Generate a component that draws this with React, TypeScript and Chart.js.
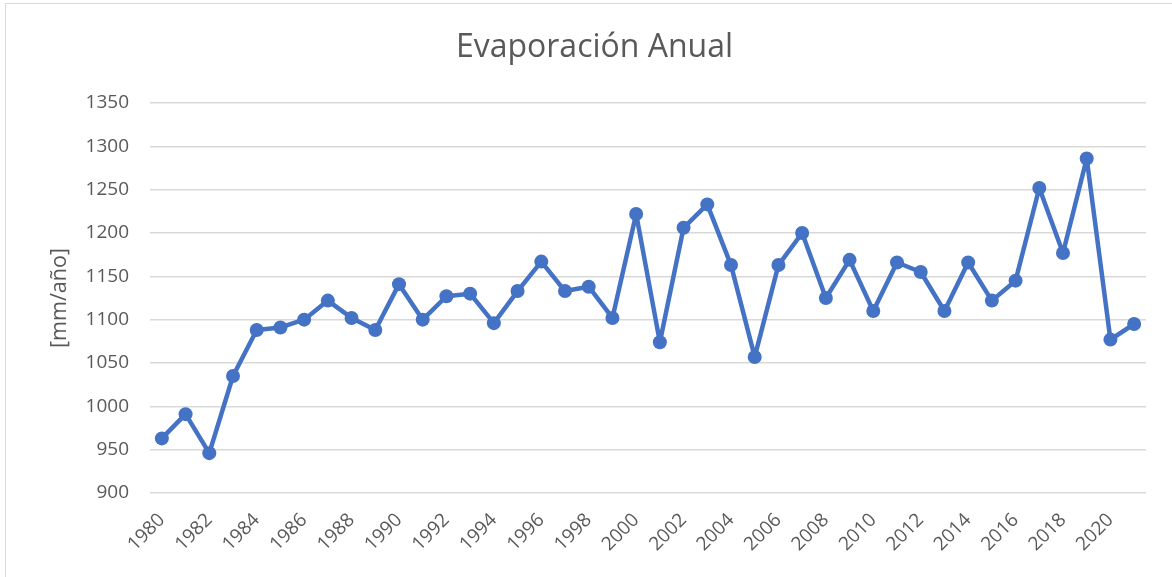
import React, { useEffect, useRef } from "react";
import { Chart, registerables } from "chart.js";

Chart.register(...registerables);

const years: string[] = [
  "1980", "1981", "1982", "1983", "1984", "1985", "1986", "1987", "1988", "1989",
  "1990", "1991", "1992", "1993", "1994", "1995", "1996", "1997", "1998", "1999",
  "2000", "2001", "2002", "2003", "2004", "2005", "2006", "2007", "2008", "2009",
  "2010", "2011", "2012", "2013", "2014", "2015", "2016", "2017", "2018", "2019",
  "2020", "2021",
];

const evaporation: number[] = [
  963, 991, 946, 1035, 1088, 1091, 1100, 1122, 1102, 1088,
  1141, 1100, 1127, 1130, 1096, 1133, 1167, 1133, 1138, 1102,
  1222, 1074, 1206, 1233, 1163, 1057, 1163, 1200, 1125, 1169,
  1110, 1166, 1155, 1110, 1166, 1122, 1145, 1252, 1177, 1286,
  1077, 1095,
];

const chartTitle = "Evaporación Anual";
const yAxisTitle = "[mm/año]";
const yMin = 900;
const yMax = 1350;
const yStep = 50;

const FONT = "'Open Sans', 'Noto Sans', sans-serif";
const TEXT = "#595959";
const GRID = "#d9d9d9";
const BLUE = "#4472C4";

export default function App() {
  const canvasRef = useRef<HTMLCanvasElement | null>(null);

  useEffect(() => {
    document.body.style.margin = "0";
    document.body.style.overflow = "hidden";
    const canvas = canvasRef.current;
    if (!canvas) return;
    const chart = new Chart(canvas, {
      type: "line",
      data: {
        labels: years,
        datasets: [
          {
            label: "Evaporación",
            data: evaporation,
            borderColor: BLUE,
            backgroundColor: BLUE,
            borderWidth: 4.5,
            borderJoinStyle: "round",
            borderCapStyle: "round",
            pointRadius: 7,
            pointBackgroundColor: BLUE,
            pointBorderColor: BLUE,
            pointBorderWidth: 0,
            tension: 0,
          },
        ],
      },
      options: {
        animation: false,
        responsive: true,
        maintainAspectRatio: false,
        layout: { padding: { left: 43, right: 26, top: 0, bottom: 0 } },
        plugins: {
          legend: { display: false },
          tooltip: { enabled: false },
          title: {
            display: true,
            text: chartTitle,
            color: TEXT,
            font: { family: FONT, size: 32, weight: "normal" },
            padding: { top: 29, bottom: 35.6 },
          },
        },
        scales: {
          x: {
            offset: true,
            grid: { display: false, drawTicks: false },
            border: { display: false },
            ticks: {
              autoSkip: false,
              maxRotation: 45,
              minRotation: 45,
              padding: 16,
              color: TEXT,
              font: { family: FONT, size: 19 },
              callback: (_v: any, i: number) => (i % 2 === 0 ? years[i] : ""),
            },
            afterFit: (s: any) => {
              s.height = 84;
            },
          },
          y: {
            min: yMin,
            max: yMax,
            grid: { color: GRID, lineWidth: 1.5, drawTicks: false },
            border: { display: false },
            ticks: {
              stepSize: yStep,
              padding: 21,
              color: TEXT,
              font: { family: FONT, size: 19 },
              callback: (v: any) => String(v),
            },
            title: {
              display: true,
              text: yAxisTitle,
              color: TEXT,
              font: { family: FONT, size: 21.5 },
              padding: { top: 4, bottom: 0 },
            },
            afterFit: (s: any) => {
              s.width = 107;
            },
          },
        },
      },
    });
    return () => chart.destroy();
  }, []);

  return (
    <div
      style={{
        position: "fixed",
        left: 0,
        top: 0,
        width: 1172,
        height: 577,
        overflow: "hidden",
        background: "#fff",
      }}
    >
      <div
        style={{
          position: "absolute",
          left: 5,
          top: 3,
          width: 1200,
          height: 620,
          border: `1px solid ${GRID}`,
        }}
      />
      <canvas ref={canvasRef} style={{ position: "absolute", left: 0, top: 0 }} />
    </div>
  );
}
